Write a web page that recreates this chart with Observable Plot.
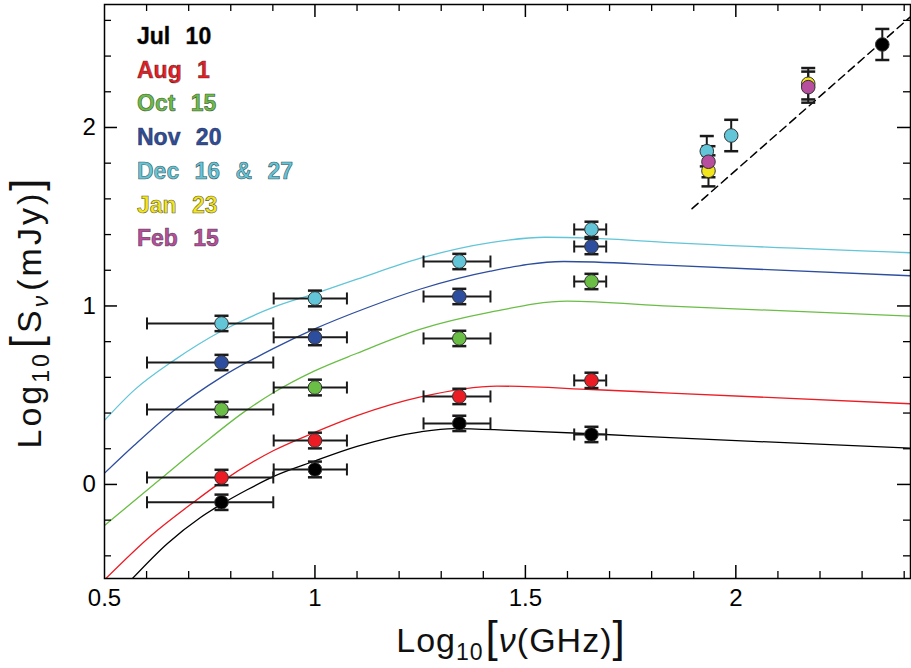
<!DOCTYPE html>
<html><head><meta charset="utf-8">
<script src="https://cdn.jsdelivr.net/npm/d3@7"></script>
<script src="https://cdn.jsdelivr.net/npm/@observablehq/plot@0.6"></script>
<style>
html,body{margin:0;padding:0;background:#fff;}
#wrap{position:relative;width:911px;height:668px;}
#legend{position:absolute;left:137px;top:20px;font-family:"Liberation Sans",sans-serif;font-weight:bold;font-size:23px;line-height:33.7px;word-spacing:9px;white-space:pre;}
#legend div{-webkit-text-stroke:0.6px rgba(40,40,40,0.75);}
</style></head><body><div id="wrap"><div id="legend"></div></div>
<script>
// ---------- series ----------
const seriesNames  = ["Jul 10","Aug 1","Oct 15","Nov 20","Dec 16 & 27","Jan 23","Feb 15"];
const seriesColors = ["#000000","#ec1c24","#6abd45","#2d4d9e","#62c5d8","#f2e51c","#b84e9e"];

// ---------- centimetre points (log10 GHz, log10 mJy) ----------
const lowFreq   = [0.778, 1.000, 1.343, 1.657];
const lowFreqLo = [0.601, 0.902, 1.258, 1.616];
const lowFreqHi = [0.901, 1.076, 1.417, 1.692];
const fluxJul = [-0.100, 0.084, 0.342, 0.280];
const fluxAug = [0.039, 0.246, 0.493, 0.583];
const fluxOct = [0.420, 0.543, 0.818, 1.137];
const fluxNov = [0.683, 0.824, 1.053, 1.333];
const fluxDec = [0.902, 1.042, 1.249, 1.429];
const fluxErrLow = [0.043, 0.044, 0.043, 0.043];

// ---------- millimetre points ----------
const mmSeries = ["Dec 16 & 27","Dec 16 & 27","Jan 23","Jan 23","Feb 15","Feb 15","Jul 10"];
const mmFreq = [1.931, 1.989, 1.935, 2.172, 1.935, 2.172, 2.348];
const mmFlux = [1.867, 1.955, 1.757, 2.245, 1.808, 2.226, 2.465];
const mmErr  = [0.085, 0.088, 0.087, 0.088, 0.087, 0.087, 0.087];

// ---------- dashed reference line ----------
const dashFreq = [1.896, 2.414];
const dashFlux = [1.545, 2.618];

// ---------- model curves ----------
const curveJulX = [0.566, 0.649, 0.728, 0.777, 0.839, 0.902, 0.998, 1.100, 1.251, 1.330, 1.464, 1.656, 1.844, 2.415];
const curveJulY = [-0.528, -0.332, -0.185, -0.112, -0.030, 0.045, 0.130, 0.213, 0.295, 0.313, 0.303, 0.284, 0.262, 0.203];
const curveAugX = [0.502, 0.609, 0.712, 0.777, 0.902, 0.998, 1.100, 1.251, 1.433, 1.657, 1.844, 2.415];
const curveAugY = [-0.530, -0.290, -0.099, 0.013, 0.190, 0.290, 0.385, 0.490, 0.551, 0.532, 0.512, 0.452];
const curveOctX = [0.500, 0.633, 0.728, 0.831, 0.902, 0.998, 1.100, 1.251, 1.417, 1.599, 1.844, 2.415];
const curveOctY = [-0.230, 0.030, 0.215, 0.405, 0.515, 0.635, 0.735, 0.870, 0.965, 1.027, 0.999, 0.943];
const curveNovX = [0.500, 0.570, 0.673, 0.777, 0.902, 0.998, 1.124, 1.251, 1.417, 1.591, 1.844, 2.415];
const curveNovY = [0.063, 0.218, 0.430, 0.600, 0.762, 0.870, 0.990, 1.095, 1.195, 1.249, 1.227, 1.169];
const curveDecX = [0.500, 0.570, 0.665, 0.777, 0.902, 0.998, 1.100, 1.251, 1.417, 1.547, 1.656, 1.844, 2.415];
const curveDecY = [0.359, 0.527, 0.695, 0.858, 0.993, 1.068, 1.150, 1.268, 1.355, 1.385, 1.380, 1.355, 1.298];

// ---------- ticks ----------
const xLabels = [0.5, 1, 1.5, 2];
const xMajor = [1, 1.5, 2];
const xMinor = [0.6,0.7,0.8,0.9,1.1,1.2,1.3,1.4,1.6,1.7,1.8,1.9,2.1,2.2,2.3,2.4];
const yLabels = [0, 1, 2];
const yMajor = [0, 1, 2];
const yMinor = [-0.4,-0.2,0.2,0.4,0.6,0.8,1.2,1.4,1.6,1.8,2.2,2.4,2.6];

// ---------- build tables ----------
const lowFlux = [fluxJul, fluxAug, fluxOct, fluxNov, fluxDec];
const lowRows = [];
lowFlux.forEach((arr, s) => arr.forEach((v, i) => lowRows.push({
  series: seriesNames[s], x: lowFreq[i], xlo: lowFreqLo[i], xhi: lowFreqHi[i], y: v, err: fluxErrLow[i]
})));
const mmRows = mmFreq.map((x, i) => ({series: mmSeries[i], x, y: mmFlux[i], err: mmErr[i]}));
const allRows = lowRows.concat(mmRows);
const xCapRows = lowRows.flatMap(d => [{x: d.xlo, y: d.y}, {x: d.xhi, y: d.y}]);
const yCapRows = allRows.flatMap(d => [{x: d.x, y: d.y - d.err}, {x: d.x, y: d.y + d.err}]);

const curveSets = [[curveJulX, curveJulY], [curveAugX, curveAugY], [curveOctX, curveOctY], [curveNovX, curveNovY], [curveDecX, curveDecY]];
const curveRows = [];
curveSets.forEach(([xs, ys], s) => xs.forEach((x, i) => curveRows.push({series: seriesNames[s], x, y: ys[i]})));
const dashRows = dashFreq.map((x, i) => ({x, y: dashFlux[i]}));

const W = 911, H = 668, mL = 104, mR = 1, mT = 4, mB = 90;
const innerW = W - mL - mR, innerH = H - mT - mB;
const minorLen = 7, majorLen = 13;

const capH = {draw(ctx, size){const r = Math.sqrt(size / Math.PI); ctx.moveTo(-r, 0); ctx.lineTo(r, 0);}};
const capV = {draw(ctx, size){const r = Math.sqrt(size / Math.PI); ctx.moveTo(0, -r); ctx.lineTo(0, r);}};
const ebar = "#1a1a1a";

const plot = Plot.plot({
  width: W, height: H,
  marginLeft: mL, marginRight: mR, marginTop: mT, marginBottom: mB,
  x: {domain: [0.5, 2.415], axis: null},
  y: {domain: [-0.527, 2.689], axis: null},
  color: {domain: seriesNames, range: seriesColors},
  style: {fontFamily: "Liberation Sans, sans-serif", fontSize: "24px", background: "white", color: "black"},
  marks: [
    Plot.line(curveRows, {x: "x", y: "y", z: "series", stroke: "series", strokeWidth: 1.3, curve: "monotone-x", clip: true}),
    Plot.line(dashRows, {x: "x", y: "y", stroke: "black", strokeWidth: 1.5, strokeDasharray: "8,5", clip: true}),
    Plot.ruleY(lowRows, {y: "y", x1: "xlo", x2: "xhi", stroke: ebar, strokeWidth: 2}),
    Plot.dot(xCapRows, {x: "x", y: "y", symbol: capV, r: 6, stroke: ebar, strokeWidth: 2, fill: "none"}),
    Plot.ruleX(allRows, {x: "x", y1: d => d.y - d.err, y2: d => d.y + d.err, stroke: ebar, strokeWidth: 2}),
    Plot.dot(yCapRows, {x: "x", y: "y", symbol: capH, r: 7, stroke: ebar, strokeWidth: 2.5, fill: "none"}),
    Plot.dot(allRows, {x: "x", y: "y", r: 6.8, fill: "series", stroke: "#333", strokeWidth: 1}),
    Plot.tickX(xMinor, {x: d => d, insetTop: innerH - minorLen, stroke: "black", strokeWidth: 1.3}),
    Plot.tickX(xMinor, {x: d => d, insetBottom: innerH - minorLen, stroke: "black", strokeWidth: 1.3}),
    Plot.tickX(xMajor, {x: d => d, insetTop: innerH - majorLen, stroke: "black", strokeWidth: 1.5}),
    Plot.tickX(xMajor, {x: d => d, insetBottom: innerH - majorLen, stroke: "black", strokeWidth: 1.5}),
    Plot.tickY(yMinor, {y: d => d, insetRight: innerW - minorLen, stroke: "black", strokeWidth: 1.3}),
    Plot.tickY(yMinor, {y: d => d, insetLeft: innerW - minorLen, stroke: "black", strokeWidth: 1.3}),
    Plot.tickY(yMajor, {y: d => d, insetRight: innerW - majorLen, stroke: "black", strokeWidth: 1.5}),
    Plot.tickY(yMajor, {y: d => d, insetLeft: innerW - majorLen, stroke: "black", strokeWidth: 1.5}),
    Plot.text(xLabels, {x: d => d, frameAnchor: "bottom", dy: 27, text: d => String(d), fontSize: 24, fill: "black"}),
    Plot.text(yLabels, {y: d => d, frameAnchor: "left", dx: -22, text: d => String(d), fontSize: 24, fill: "black"}),
    Plot.frame({stroke: "black", strokeWidth: 1.5})
  ]
});

document.getElementById("wrap").prepend(plot);

// axis titles with subscripts
const svg = d3.select(plot);
function title(g, parts, size, spacing) {
  const t = g.append("text").attr("text-anchor", "middle").attr("fill", "#111")
    .attr("font-family", "Liberation Sans, sans-serif").attr("font-size", size)
    .attr("letter-spacing", spacing);
  parts.forEach(p => {
    const s = t.append("tspan").text(p.t);
    if (p.size) s.attr("font-size", p.size);
    if (p.dy) s.attr("dy", p.dy);
    if (p.dx) s.attr("dx", p.dx);
    if (p.italic) s.attr("font-style", "italic");
  });
  return t;
}
title(svg.append("g").attr("transform", "translate(511,652)"), [
  {t: "Log"}, {t: "10", size: 23, dy: 8}, {t: "[", size: 44, dy: -8, dx: 2}, {t: "ν", italic: true},
  {t: "(GHz)"}, {t: "]", size: 44}
], 34, 1);
title(svg.append("g").attr("transform", "translate(41,312) rotate(-90)"), [
  {t: "Log"}, {t: "10", size: 23, dy: 8}, {t: "[", size: 44, dy: -8, dx: 3}, {t: "S"},
  {t: "ν", size: 23, dy: 7, italic: true}, {t: "(mJy)", dy: -7, dx: 2}, {t: "]", size: 44}
], 34, 3);

// legend
const leg = document.getElementById("legend");
seriesNames.forEach((n, i) => {
  const d = document.createElement("div");
  d.textContent = n;
  d.style.color = seriesColors[i];
  leg.appendChild(d);
});
</script>
</body></html>
